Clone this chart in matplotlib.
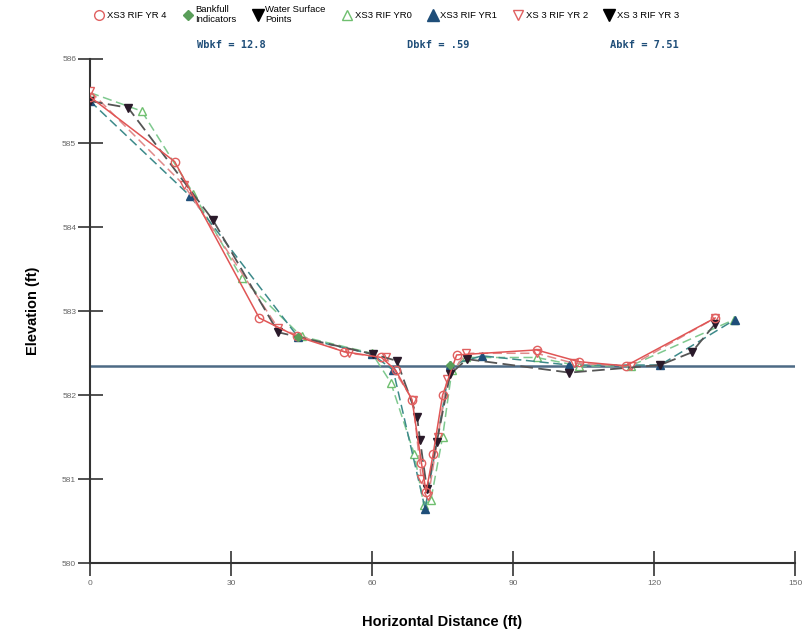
import matplotlib.pyplot as plt
from matplotlib.lines import Line2D

# Cross section XS3 riffle - station (ft) / elevation (ft) by survey year
yr4_x = [0, 18, 36, 44, 54, 62, 65, 68.5, 70.5, 71.5, 73, 75, 78, 95, 104, 114, 133]
yr4_y = [585.55, 584.78, 582.92, 582.7, 582.52, 582.45, 582.3, 581.95, 581.2, 580.85,
         581.3, 582.0, 582.48, 582.54, 582.4, 582.35, 582.92]

yr0_x = [0, 11, 22, 32.3, 45, 60, 64, 69, 71, 72.5, 75, 77, 80, 95, 104, 115, 137]
yr0_y = [585.6, 585.38, 584.4, 583.39, 582.7, 582.5, 582.15, 581.3, 580.7, 580.75,
         581.5, 582.3, 582.45, 582.45, 582.35, 582.35, 582.9]

yr1_x = [0, 21.3, 44.3, 60, 64.5, 71.3, 76.6, 83.4, 102, 121.3, 137.2]
yr1_y = [585.5, 584.37, 582.69, 582.49, 582.3, 580.65, 582.36, 582.47, 582.36, 582.36, 582.9]

yr2_x = [0, 20, 40, 55, 63, 68.7, 70.5, 72, 74, 76, 80, 95, 103, 115, 133]
yr2_y = [585.62, 584.5, 582.8, 582.5, 582.45, 581.94, 581.0, 580.8, 581.5, 582.2,
         582.5, 582.5, 582.38, 582.35, 582.92]

yr3_x = [0, 8.1, 26.2, 40, 60.2, 65.3, 69.6, 70.2, 71.7, 73.8, 76.6, 80.2, 102, 121.3, 128, 133]
yr3_y = [585.5, 585.42, 584.08, 582.75, 582.49, 582.41, 581.74, 581.47, 580.88, 581.45,
         582.25, 582.43, 582.27, 582.36, 582.51, 582.85]

bkf_x = [44.3, 76.6]
bkf_y = [582.69, 582.36]

ws_x = []
ws_y = []

bankfull_elev = 582.35
summary = ["Wbkf = 12.8", "Dbkf = .59", "Abkf = 7.51"]

plt.rcParams['font.family'] = ['Liberation Sans', 'DejaVu Sans']

fig = plt.figure(figsize=(8.06, 6.31), dpi=100)
ax = fig.add_axes([0.1117, 0.107, 0.8747, 0.7995])

# bankfull elevation line
ax.plot([0, 150], [bankfull_elev, bankfull_elev], color="#4d6a85", lw=1.8, zorder=1)

ms = 6
ax.plot(yr0_x, yr0_y, ls=(0, (6, 3)), color="#7fc98f", lw=1.1, marker="^",
        mfc="white", mec="#6fbf6f", ms=ms, label="XS3 RIF YR0", zorder=2)
ax.plot(yr1_x, yr1_y, ls=(0, (6, 3)), color="#3d8a8a", lw=1.1, marker="^",
        mfc="#1f4e79", mec="#1f4e79", ms=ms, label="XS3 RIF YR1", zorder=3)
ax.plot(yr2_x, yr2_y, ls=(0, (6, 3)), color="#e08a8a", lw=1.1, marker="v",
        mfc="white", mec="#e06060", ms=ms, label="XS 3 RIF YR 2", zorder=3)
ax.plot(yr3_x, yr3_y, ls=(0, (7, 3)), color="#555555", lw=1.3, marker="v",
        mfc="#2a1a2a", mec="#2a1a2a", ms=ms, label="XS 3 RIF YR 3", zorder=4)
ax.plot(yr4_x, yr4_y, ls="-", color="#e05555", lw=1.1, marker="o",
        mfc="none", mec="#e06060", ms=ms, label="XS3 RIF YR 4", zorder=5)
ax.plot(bkf_x, bkf_y, ls="none", marker="D", color="#5a9e5a", ms=4.5, zorder=6)
ax.plot(ws_x, ws_y, ls="none", marker="v", color="black", ms=ms)

ax.set_xlim(0, 150)
ax.set_ylim(580, 586)
ax.set_xticks([0, 30, 60, 90, 120, 150])
ax.set_yticks([580, 581, 582, 583, 584, 585, 586])
ax.tick_params(direction="inout", length=18, width=1.2, labelsize=6,
               labelcolor="#666666", color="#333333")
ax.tick_params(axis="x", pad=3)
ax.tick_params(axis="y", pad=1)
for side in ("top", "right"):
    ax.spines[side].set_visible(False)
for side in ("left", "bottom"):
    ax.spines[side].set_linewidth(1.5)
    ax.spines[side].set_color("#333333")

ax.set_xlabel("Horizontal Distance (ft)", fontsize=10.5, weight="bold", labelpad=20)
ax.set_ylabel("Elevation (ft)", fontsize=10.5, weight="bold", labelpad=16)

# bankfull summary values above the plot
for txt, xf in zip(summary, [0.244, 0.505, 0.757]):
    fig.text(xf, 0.929, txt, family="DejaVu Sans Mono", weight="bold",
             fontsize=7.5, color="#1f4e79", ha="left", va="center")

handles = [
    Line2D([], [], ls="none", marker="o", mfc="none", mec="#e06060", ms=7),
    Line2D([], [], ls="none", marker="D", color="#5a9e5a", ms=5.5),
    Line2D([], [], ls="none", marker="v", color="black", ms=8),
    Line2D([], [], ls="none", marker="^", mfc="none", mec="#6fbf6f", ms=7),
    Line2D([], [], ls="none", marker="^", color="#1f4e79", ms=8),
    Line2D([], [], ls="none", marker="v", mfc="none", mec="#e06060", ms=7),
    Line2D([], [], ls="none", marker="v", color="black", ms=8),
]
labels = ["XS3 RIF YR 4", "Bankfull\nIndicators", "Water Surface\nPoints",
          "XS3 RIF YR0", "XS3 RIF YR1", "XS 3 RIF YR 2", "XS 3 RIF YR 3"]
fig.legend(handles, labels, loc="upper left", bbox_to_anchor=(0.107, 1.006),
           ncol=7, frameon=False, fontsize=6.8, handletextpad=0.3,
           columnspacing=1.75, handlelength=1.0)

fig.savefig("out.png", dpi=100)
